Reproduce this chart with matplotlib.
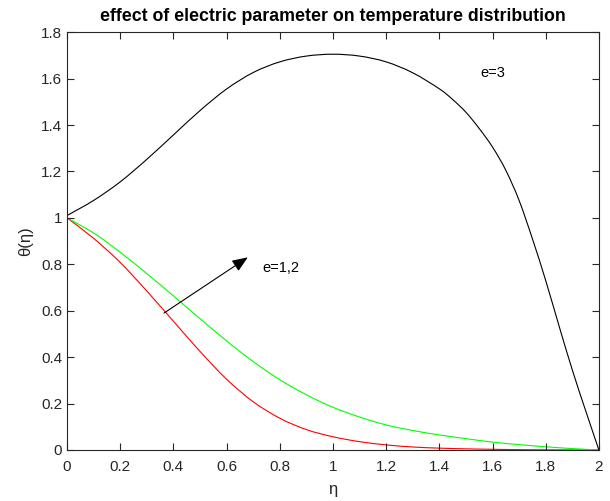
import numpy as np
import matplotlib
matplotlib.use("Agg")
import matplotlib.pyplot as plt
from matplotlib.path import Path
from matplotlib.patches import PathPatch
from matplotlib.ticker import FormatStrFormatter

plt.rcParams['font.family'] = ['Liberation Sans', 'DejaVu Sans']

# eta values
eta = [0.0, 0.1, 0.2, 0.3, 0.4, 0.5, 0.6, 0.7, 0.8, 0.9, 1.0,
       1.1, 1.2, 1.3, 1.4, 1.5, 1.6, 1.7, 1.8, 1.9, 2.0]

theta_e1 = [1.0, 0.912, 0.808, 0.685, 0.555, 0.425, 0.305, 0.208, 0.137, 0.088, 0.057,
            0.036, 0.022, 0.013, 0.008, 0.005, 0.003, 0.0015, 0.0007, 0.0003, 0.0]
theta_e2 = [1.0, 0.935, 0.852, 0.76, 0.664, 0.566, 0.47, 0.381, 0.303, 0.238, 0.184,
            0.142, 0.108, 0.084, 0.065, 0.049, 0.034, 0.023, 0.014, 0.006, 0.0]

# e=3 curve, finer near the steep end
eta3 = [0.0, 0.1, 0.2, 0.3, 0.4, 0.5, 0.6, 0.7, 0.8, 0.9, 1.0, 1.1, 1.2, 1.3,
        1.4, 1.45, 1.5, 1.55, 1.6, 1.65, 1.7, 1.75, 1.8, 1.85, 1.9, 1.95, 2.0]
theta_e3 = [1.01, 1.075, 1.155, 1.252, 1.357, 1.462, 1.555, 1.626, 1.672, 1.697, 1.705,
            1.697, 1.672, 1.625, 1.556, 1.51, 1.455, 1.385, 1.305, 1.205, 1.075,
            0.91, 0.73, 0.535, 0.345, 0.17, 0.0]


def smooth_line(ax, xs, ys, **kw):
    # draw a smooth curve through the points (catmull-rom as bezier segments)
    p = np.column_stack([xs, ys]).astype(float)
    verts = [p[0]]
    codes = [Path.MOVETO]
    n = len(p)
    for i in range(n - 1):
        p0 = p[i - 1] if i > 0 else p[i]
        p3 = p[i + 2] if i + 2 < n else p[i + 1]
        c1 = p[i] + (p[i + 1] - p0) / 6.0
        c2 = p[i + 1] - (p3 - p[i]) / 6.0
        verts += [c1, c2, p[i + 1]]
        codes += [Path.CURVE4] * 3
    ax.add_patch(PathPatch(Path(verts, codes), fill=False, **kw))


fig = plt.figure(figsize=(6.1, 5.01), dpi=100)
ax = fig.add_axes([0.1098, 0.1018, 0.872, 0.834])

smooth_line(ax, eta, theta_e1, edgecolor='red', lw=0.8)
smooth_line(ax, eta, theta_e2, edgecolor='#00ff00', lw=0.8)
smooth_line(ax, eta3, theta_e3, edgecolor='black', lw=0.8)

ax.annotate('', xy=(0.68, 0.83), xytext=(0.365, 0.59),
            arrowprops=dict(arrowstyle='-|>,head_length=0.95,head_width=0.38',
                            color='black', lw=0.8, shrinkA=0, shrinkB=0))
ax.text(0.733, 0.785, 'e=1,2', fontsize=10.5, va='center', ha='left')
ax.text(1.556, 1.625, 'e=3', fontsize=10.5, va='center', ha='left')

ax.set_xlim(0, 2)
ax.set_ylim(0, 1.8)
ax.set_xticks(np.arange(0, 2.01, 0.2))
ax.set_yticks(np.arange(0, 1.81, 0.2))
ax.xaxis.set_major_formatter(FormatStrFormatter('%g'))
ax.yaxis.set_major_formatter(FormatStrFormatter('%g'))
ax.tick_params(direction='in', top=True, right=True, length=5, width=0.8,
               labelsize=11, colors='#262626')
ax.tick_params(axis='x', pad=7)
for s in ax.spines.values():
    s.set_color('#262626')
    s.set_linewidth(0.8)

ax.set_xlabel('η', fontsize=12, color='#262626', labelpad=6)
ax.set_ylabel('θ(η)', fontsize=12, color='#262626', labelpad=6)
ax.set_title('effect of electric parameter on temperature distribution',
             fontsize=12.8, fontweight='bold', pad=8)

fig.savefig('out.png', dpi=100)
